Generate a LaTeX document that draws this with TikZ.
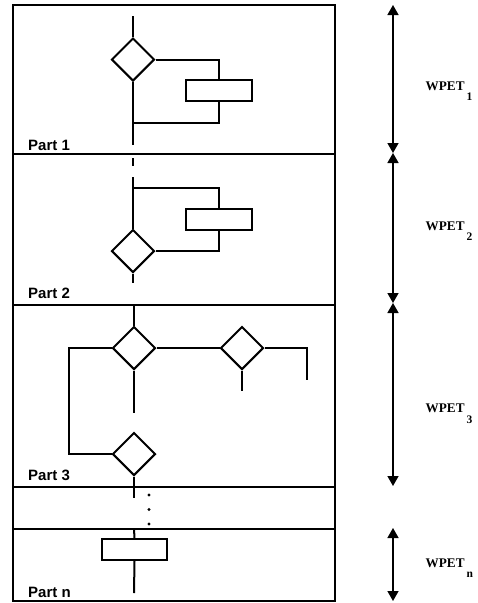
\documentclass[tikz,border=0pt]{standalone}
\usepackage{fontspec}
\newfontfamily\hlv{Liberation Sans}
\newfontfamily\tms{Liberation Serif}
\usetikzlibrary{shapes.geometric,arrows.meta}
\tikzset{
  ln/.style={line width=2pt},
  frame/.style={line width=1.6pt},
  dia/.style={draw, diamond, line width=2pt, minimum width=43pt, minimum height=43pt, inner sep=0pt, fill=white},
  blk/.style={draw, rectangle, line width=2pt, minimum width=66pt, minimum height=21pt, inner sep=0pt, fill=white},
  dotn/.style={circle, fill=black, minimum size=3.2pt, inner sep=0pt},
  partlbl/.style={anchor=base west, inner sep=0pt, font=\hlv\bfseries\fontsize{15}{18}\selectfont},
  wlbl/.style={anchor=base west, inner sep=0pt, font=\tms\bfseries\fontsize{13.2}{15}\selectfont},
  dim/.style={line width=1.5pt, {Triangle[width=11pt,length=10pt]}-{Triangle[width=11pt,length=10pt]}}
}
\newcommand{\wpet}[2]{WPET\hspace{2pt}\raisebox{-#2pt}{\tms\bfseries\fontsize{11.5}{12}\selectfont #1}}
\begin{document}
\begin{tikzpicture}[x=1pt,y=-1pt]
\useasboundingbox (0,0) rectangle (478,603);
% frame and separators
\draw[frame] (13,5) rectangle (335,601);
\coordinate (L1) at (13,154); \coordinate (R1) at (335,154);
\coordinate (L2) at (13,305); \coordinate (R2) at (335,305);
\coordinate (L3) at (13,487); \coordinate (R3) at (335,487);
\coordinate (L4) at (13,529); \coordinate (R4) at (335,529);
\draw[frame] (L1) -- (R1);
\draw[frame] (L2) -- (R2);
\draw[frame] (L3) -- (R3);
\draw[frame] (L4) -- (R4);
% labels
\node[partlbl] (p1) at (28,150) {Part 1};
\node[partlbl] (p2) at (28,298) {Part 2};
\node[partlbl] (p3) at (28,480) {Part 3};
\node[partlbl] (pn) at (28,597) {Part n};
% Part 1
\coordinate (s1t) at (133,16);
\coordinate (s1b) at (133,145);
\coordinate (j1) at (133,123);
\node[dia] (d1) at (133,59.5) {};
\node[blk] (r1) at (219,90.5) {};
\draw[ln] (s1t) -- (d1.north);
\draw[ln] (d1.south) -- (s1b);
\draw[ln] (d1.east) -| (r1.north);
\draw[ln] (r1.south) |- (j1);
% Part 2
\coordinate (s2a) at (133,158);
\coordinate (s2b) at (133,166);
\coordinate (s2c) at (133,177);
\coordinate (j2) at (133,188);
\coordinate (s2e) at (133,283);
\node[dia] (d2) at (133,251) {};
\node[blk] (r2) at (219,219.5) {};
\draw[ln] (s2a) -- (s2b);
\draw[ln] (s2c) -- (d2.north);
\draw[ln] (j2) -| (r2.north);
\draw[ln] (r2.south) |- (d2.east);
\draw[ln] (d2.south) -- (s2e);
% Part 3
\coordinate (s3t) at (134,305);
\coordinate (k3) at (69,348);
\coordinate (e3) at (134,413);
\coordinate (e4) at (134,498);
\coordinate (e5) at (242,391);
\coordinate (e6) at (307,380);
\node[dia] (d3) at (134,348) {};
\node[dia] (d4) at (134,454) {};
\node[dia] (d5) at (242,348) {};
\draw[ln] (s3t) -- (d3.north);
\draw[ln] (d3.west) -- (k3) |- (d4.west);
\draw[ln] (d3.south) -- (e3);
\draw[ln] (d4.south) -- (e4);
\draw[ln] (d3.east) -- (d5.west);
\draw[ln] (d5.south) -- (e5);
\draw[ln] (d5.east) -| (e6);
% dots
\node[dotn] (o1) at (149,495) {};
\node[dotn] (o2) at (149,509.5) {};
\node[dotn] (o3) at (149,524) {};
% Part n
\coordinate (snt) at (134,529);
\coordinate (snb) at (134,593);
\node[blk, minimum width=65pt] (rn) at (134.5,549.5) {};
\draw[ln] (snt) -- (rn.north);
\draw[ln] (rn.south) -- (snb);
% dimension arrows
\coordinate (a0) at (393,5);
\coordinate (a1) at (393,153);
\coordinate (a2) at (393,303);
\coordinate (a3) at (393,486);
\coordinate (a4) at (393,528);
\coordinate (a5) at (393,601);
\draw[dim] (a0) -- (a1);
\draw[dim] (a1) -- (a2);
\draw[dim] (a2) -- (a3);
\draw[dim] (a4) -- (a5);
\node[wlbl] (w1) at (425.5,90.5) {\wpet{1}{9.5}};
\node[wlbl] (w2) at (425.5,230) {\wpet{2}{10}};
\node[wlbl] (w3) at (425.5,412) {\wpet{3}{11}};
\node[wlbl] (wn) at (425.5,567) {\wpet{n}{10}};
\end{tikzpicture}
\end{document}
